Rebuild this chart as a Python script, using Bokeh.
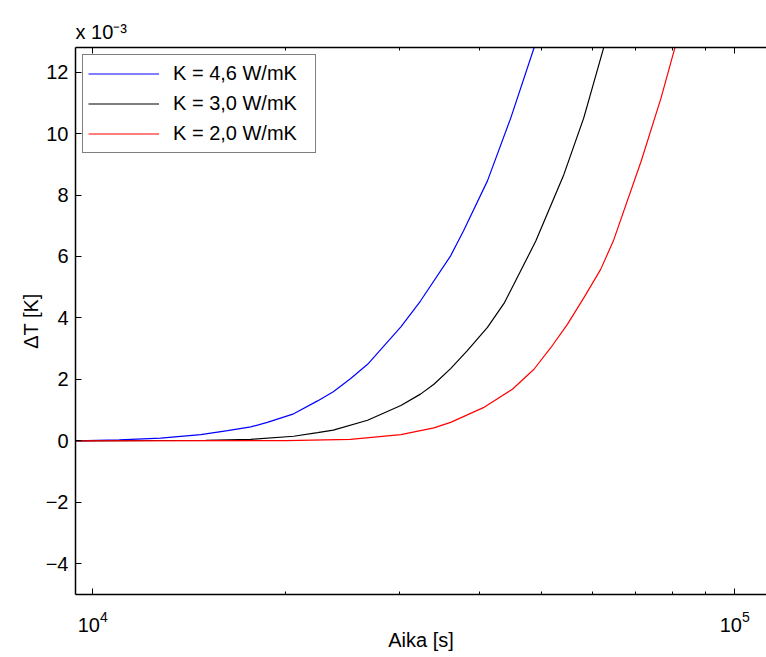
from bokeh.plotting import figure
from bokeh.models import Range1d, LogAxis, FixedTicker, CustomJSTickFormatter
from bokeh.embed import file_html
from bokeh.resources import INLINE

# Time [s] and temperature change [x 10^-3 K]
t_k46 = [9400, 11000, 12760, 14730, 16220, 17630, 18700, 20560, 22400, 23700,
         25200, 26800, 30200, 32400, 36100, 37800, 41200, 44800, 48700]
dT_k46 = [0.0, 0.03, 0.09, 0.2, 0.33, 0.455, 0.6, 0.88, 1.3, 1.6,
          2.02, 2.49, 3.71, 4.55, 6.02, 6.83, 8.46, 10.51, 12.79]

t_k30 = [9400, 15000, 17630, 20560, 22400, 23700, 26800, 30200, 32400, 34000,
         36100, 38300, 41200, 43800, 49000, 54200, 58200, 62500]
dT_k30 = [0.0, 0.02, 0.05, 0.15, 0.27, 0.35, 0.67, 1.15, 1.52, 1.84,
          2.35, 2.93, 3.69, 4.5, 6.5, 8.67, 10.51, 12.79]

t_k20 = [9400, 20000, 25200, 30200, 34000, 36100, 40600, 45060, 48680, 51700,
         54880, 58240, 61840, 64700, 71500, 76800, 80700]
dT_k20 = [0.0, 0.01, 0.05, 0.2, 0.42, 0.6, 1.08, 1.68, 2.33, 3.03,
          3.79, 4.66, 5.58, 6.5, 9.1, 11.16, 12.79]

labels = ["K = 4,6 W/mK", "K = 3,0 W/mK", "K = 2,0 W/mK"]
colors = ["#0000ff", "#000000", "#ff0000"]
y_ticks = [-4, -2, 0, 2, 4, 6, 8, 10, 12]
x_major = [1e4, 1e5]
x_minor = [2e4, 3e4, 4e4, 5e4, 6e4, 7e4, 8e4, 9e4]

FONT = "Liberation Sans"
FS = "20px"

p = figure(width=766, height=657, x_axis_type="log",
           x_range=Range1d(9400, 112100), y_range=Range1d(-5.0, 12.8),
           output_backend="svg", toolbar_location=None,
           min_border_left=75, min_border_right=0, min_border_top=47,
           min_border_bottom=63)
p.outline_line_color = None
p.xgrid.visible = False
p.ygrid.visible = False
p.background_fill_color = "white"
p.border_fill_color = "white"

p.title.text = "x 10\u207b\u00b3"
p.title.align = "left"
p.title.text_font = FONT
p.title.text_font_size = FS
p.title.text_font_style = "normal"
p.title.text_color = "black"
p.title.standoff = 9

for t, d, lab, c in zip([t_k46, t_k30, t_k20], [dT_k46, dT_k30, dT_k20], labels, colors):
    p.line(t, d, line_color=c, line_width=1.2, legend_label=lab)

def style_axis(ax):
    ax.axis_line_color = "black"
    ax.axis_line_width = 1.5
    ax.major_tick_in = 6
    ax.major_tick_out = 0
    ax.minor_tick_in = 3
    ax.minor_tick_out = 0
    ax.major_tick_line_color = "black"
    ax.minor_tick_line_color = "black"
    ax.major_label_text_font = FONT
    ax.major_label_text_font_size = FS
    ax.major_label_text_color = "black"
    ax.axis_label_text_font = FONT
    ax.axis_label_text_font_size = FS
    ax.axis_label_text_font_style = "normal"
    ax.axis_label_text_color = "black"

xa = p.xaxis[0]
xa.ticker = FixedTicker(ticks=x_major, minor_ticks=x_minor)
xa.axis_label = "Aika [s]"
style_axis(xa)
xa.major_label_standoff = 16
xa.axis_label_standoff = -6

ya = p.yaxis[0]
ya.ticker = FixedTicker(ticks=y_ticks, minor_ticks=[])
ya.formatter = CustomJSTickFormatter(code="return tick < 0 ? '\u2212' + Math.abs(tick) : String(tick);")
ya.axis_label = "\u0394T [K]"
style_axis(ya)
ya.major_label_standoff = 7
ya.axis_label_standoff = 1

top = LogAxis(ticker=FixedTicker(ticks=x_major, minor_ticks=x_minor),
              formatter=CustomJSTickFormatter(code="return '';"))
style_axis(top)
top.major_label_standoff = 0
p.add_layout(top, "above")

lg = p.legend[0]
lg.location = "top_left"
lg.margin = 7
lg.padding = 5
lg.spacing = 3
lg.border_line_color = "black"
lg.border_line_width = 1.5
lg.background_fill_color = "white"
lg.background_fill_alpha = 1.0
lg.glyph_width = 71
lg.glyph_height = 27
lg.label_height = 27
lg.label_width = 137
lg.label_standoff = 14
lg.label_text_font = FONT
lg.label_text_font_size = FS
lg.label_text_color = "black"

open("out.html", "w").write(file_html(p, INLINE))
